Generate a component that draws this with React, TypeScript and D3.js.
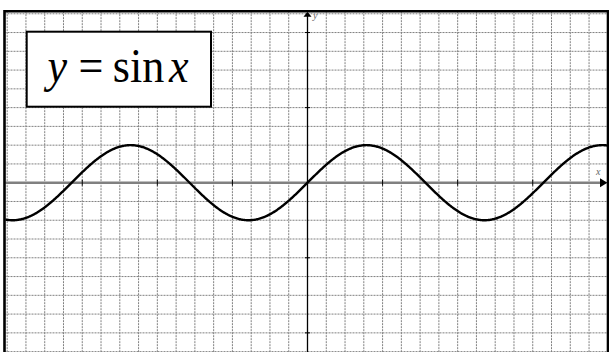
import React from "react";
import * as d3 from "d3";

const W = 609;
const H = 352;

// plotted function y = sin x, sampled over the visible domain
const xDomain: [number, number] = [-8.2, 8.2];
const gridStep = 0.5;
const xTickValues = [-6, -4, -2, 2, 4, 6];
const yTickValues = [-4, -2, 2, 4];
const titleParts = ["y", "=", "sin", "x"];

const origin = { x: 307.5, y: 182.7 };
const unit = 37.54;

const serif = "'Liberation Serif', 'Times New Roman', serif";

export default function App() {
  const x = d3
    .scaleLinear()
    .domain([0, 1])
    .range([origin.x, origin.x + unit]);
  const y = d3
    .scaleLinear()
    .domain([0, 1])
    .range([origin.y, origin.y - unit]);

  const frame = { left: 4.5, top: 11.2, right: 608, bottom: 360 };

  const gx = d3.range(-9, 9.001, gridStep).filter((v) => {
    const p = x(v);
    return p > frame.left + 1 && p < frame.right - 1;
  });
  const gy = d3.range(-6, 6.001, gridStep).filter((v) => {
    const p = y(v);
    return p > frame.top + 1 && p < H;
  });

  const samples = d3
    .range(xDomain[0], xDomain[1], 0.02)
    .map((v) => [v, Math.sin(v)] as [number, number]);
  const line = d3
    .line<[number, number]>()
    .x((d) => x(d[0]))
    .y((d) => y(d[1]))
    .curve(d3.curveLinear);

  const titlePos = [
    { x: 47.5, italic: true },
    { x: 78.5, italic: false },
    { x: 112.8, italic: false },
    { x: 169, italic: true },
  ];

  return (
    <svg
      width={W}
      height={H}
      style={{ position: "absolute", left: 0, top: 0, background: "#fff" }}
    >
      <defs>
        <clipPath id="plot">
          <rect
            x={frame.left + 1}
            y={frame.top + 1}
            width={frame.right - frame.left - 2}
            height={H}
          />
        </clipPath>
      </defs>
      <g clipPath="url(#plot)">
        {gx.map((v) => (
          <line
            key={"gx" + v}
            x1={x(v)}
            x2={x(v)}
            y1={frame.top}
            y2={H}
            stroke="#808080"
            strokeWidth={1}
            strokeDasharray="2,1"
          />
        ))}
        {gy.map((v) => (
          <line
            key={"gy" + v}
            x1={frame.left}
            x2={frame.right}
            y1={y(v)}
            y2={y(v)}
            stroke="#808080"
            strokeWidth={1}
            strokeDasharray="2,1"
          />
        ))}
        {/* x axis */}
        <line
          x1={frame.left}
          x2={frame.right - 6}
          y1={y(0)}
          y2={y(0)}
          stroke="#808080"
          strokeWidth={2.4}
        />
        {/* y axis */}
        <line
          x1={x(0)}
          x2={x(0)}
          y1={frame.top + 4}
          y2={H}
          stroke="#000"
          strokeWidth={1.3}
        />
        {xTickValues.map((v) => (
          <line
            key={"xt" + v}
            x1={x(v)}
            x2={x(v)}
            y1={y(0) - 3}
            y2={y(0) + 3}
            stroke="#000"
            strokeWidth={1}
          />
        ))}
        {yTickValues.map((v) => (
          <line
            key={"yt" + v}
            x1={x(0) - 2.5}
            x2={x(0) + 2.5}
            y1={y(v)}
            y2={y(v)}
            stroke="#000"
            strokeWidth={1}
          />
        ))}
        <path
          d={line(samples) || ""}
          fill="none"
          stroke="#000"
          strokeWidth={2.4}
          strokeLinejoin="round"
        />
        {/* arrows */}
        <path
          d={`M${frame.right - 0.5},${y(0)} L${frame.right - 8},${y(0) - 4.5} L${frame.right - 8},${y(0) + 4.5} Z`}
          fill="#000"
        />
        <path
          d={`M${x(0)},${frame.top + 0.5} L${x(0) - 4},${frame.top + 5.5} L${x(0) + 4},${frame.top + 5.5} Z`}
          fill="#000"
        />
        <text
          x={596}
          y={175}
          fontFamily={serif}
          fontStyle="italic"
          fontSize={10}
          fill="#666"
        >
          x
        </text>
        <text
          x={313}
          y={19}
          fontFamily={serif}
          fontStyle="italic"
          fontSize={10}
          fill="#666"
        >
          y
        </text>
      </g>
      {/* frame */}
      <path
        d={`M${frame.left},${H + 5} L${frame.left},${frame.top} L${frame.right},${frame.top} L${frame.right},${H + 5}`}
        fill="none"
        stroke="#000"
        strokeWidth={2.6}
      />
      {/* title box */}
      <rect
        x={26.7}
        y={31.7}
        width={184.3}
        height={75}
        fill="#fff"
        stroke="#000"
        strokeWidth={2}
      />
      {titleParts.map((t, i) => (
        <text
          key={"t" + i}
          transform={`translate(${titlePos[i].x},82) scale(0.9,1)`}
          fontFamily={serif}
          fontStyle={titlePos[i].italic ? "italic" : "normal"}
          fontSize={49}
          fill="#000"
        >
          {t}
        </text>
      ))}
    </svg>
  );
}
